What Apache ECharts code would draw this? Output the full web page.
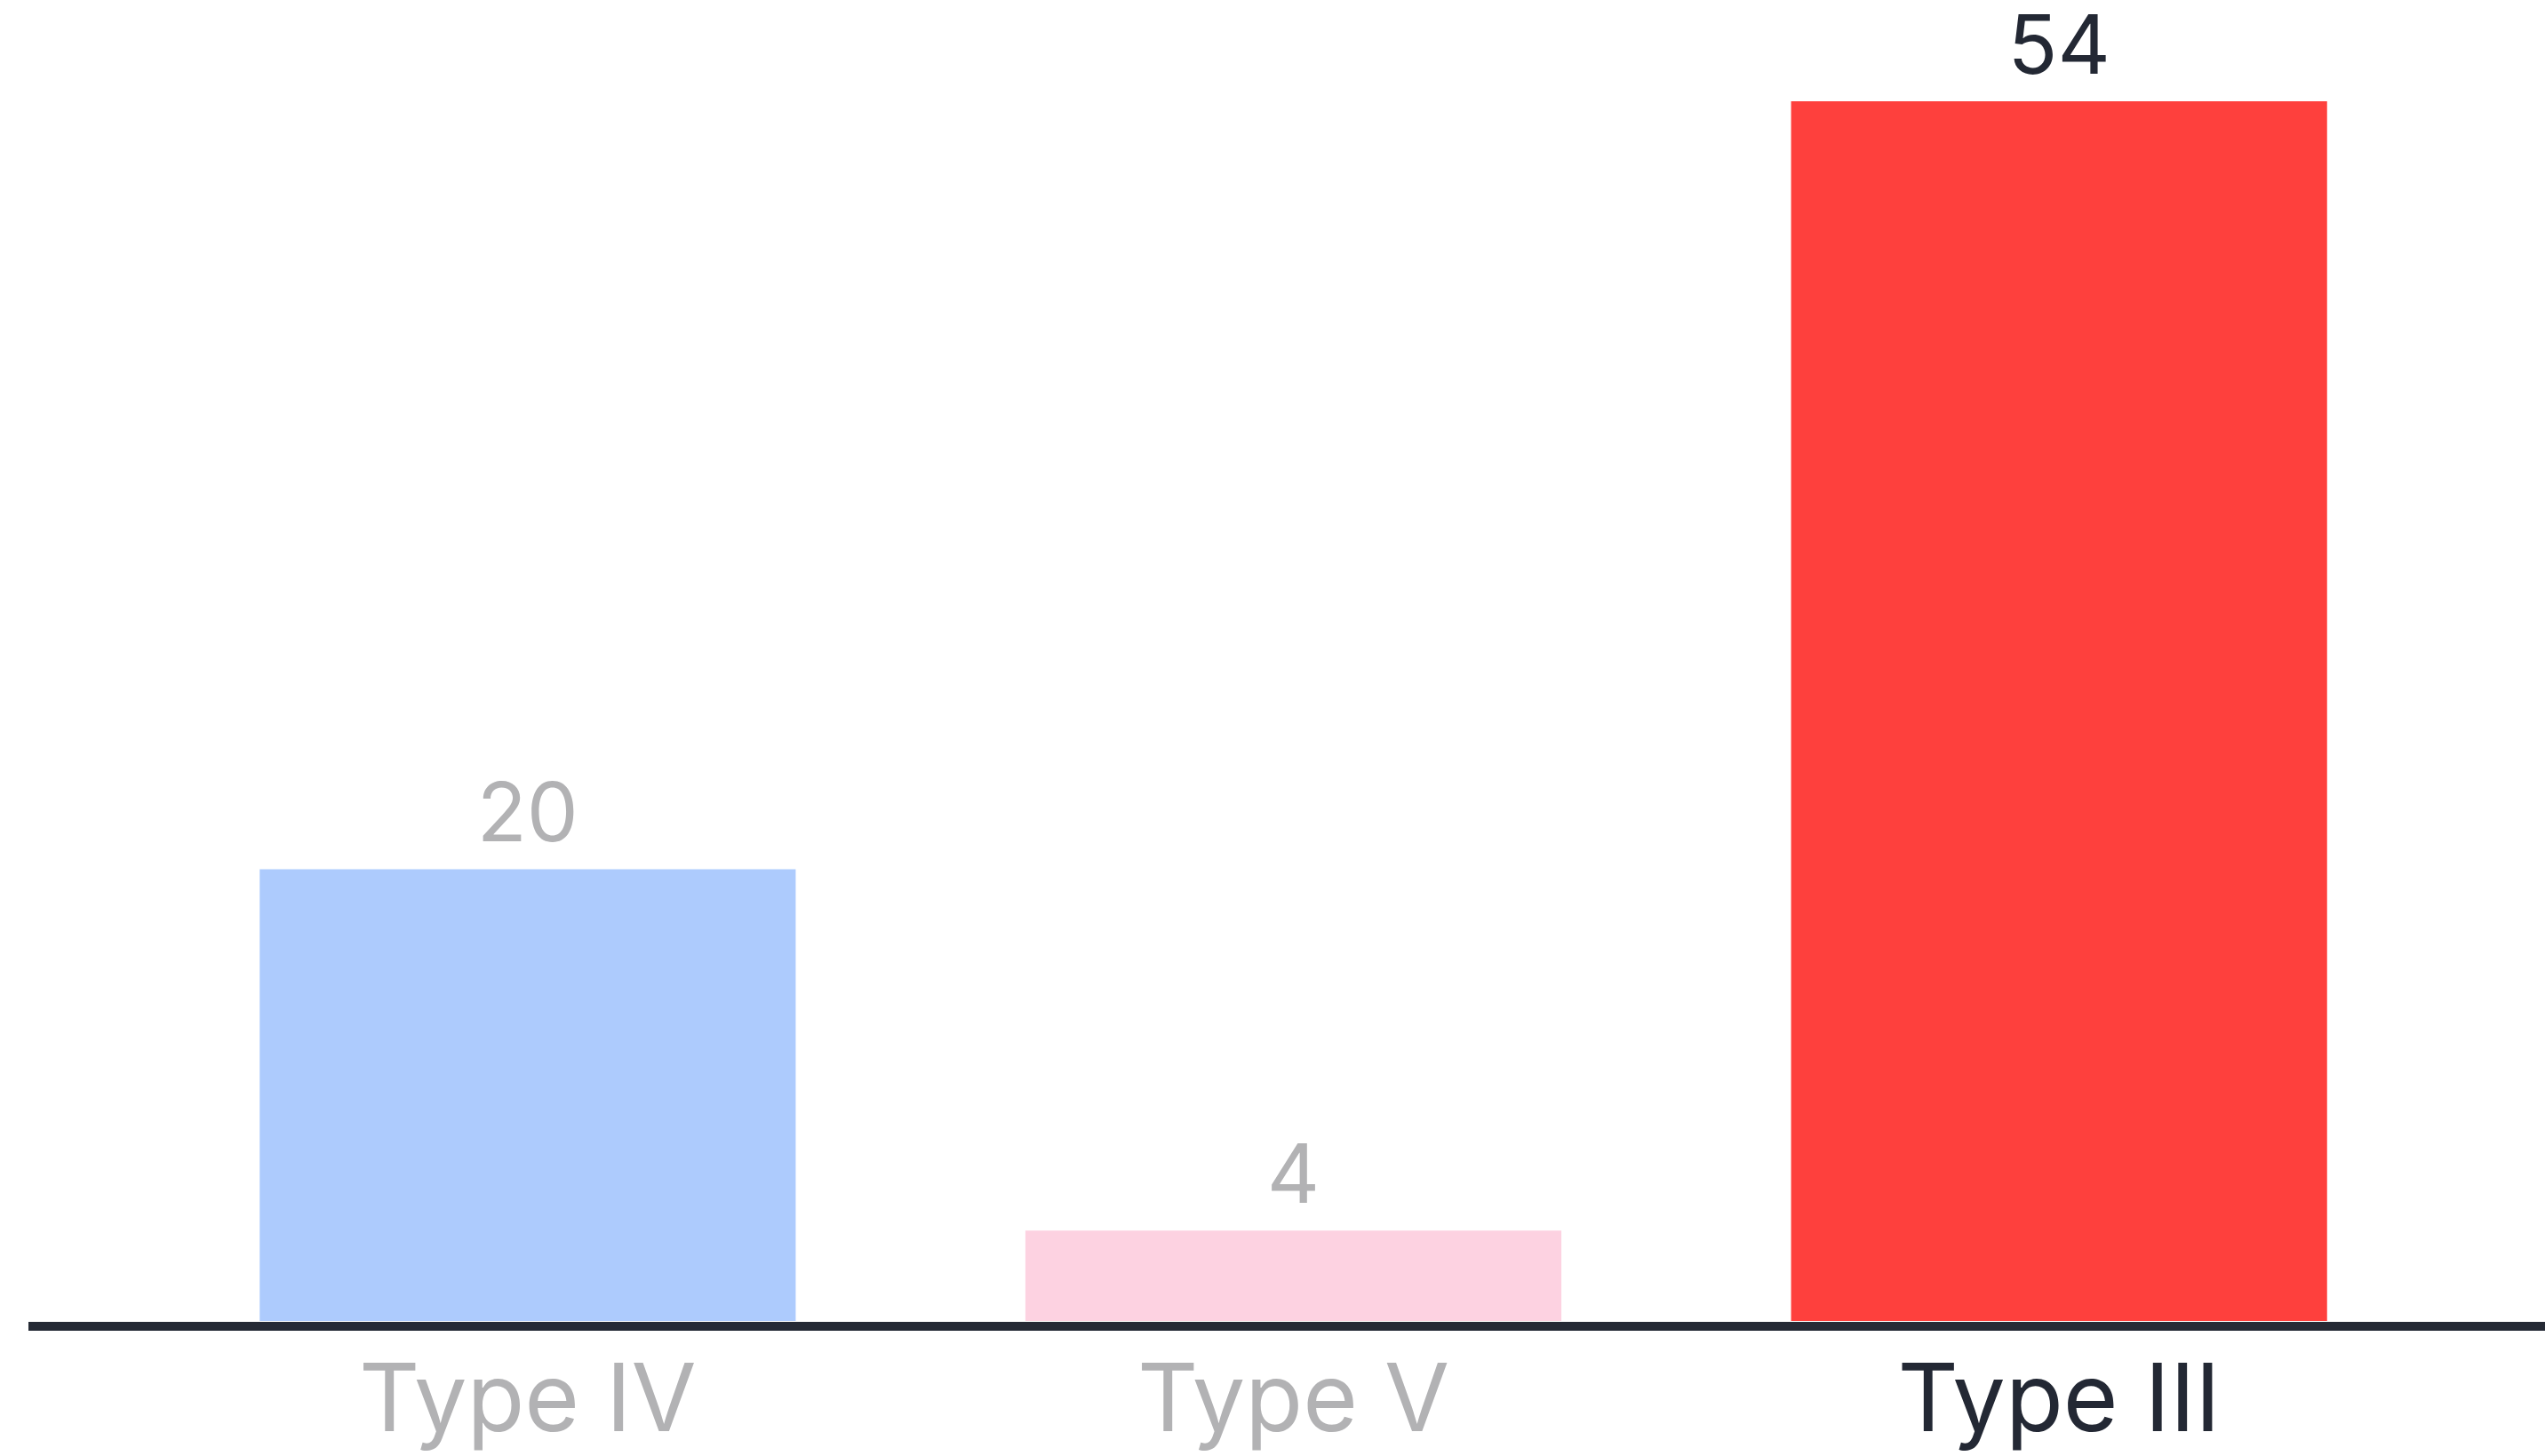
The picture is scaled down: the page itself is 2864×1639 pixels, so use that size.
<!DOCTYPE html>
<html>
<head>
<meta charset="utf-8">
<script src="https://cdn.jsdelivr.net/npm/echarts@6/dist/echarts.min.js"></script>
<style>
  html, body { margin: 0; padding: 0; background: #fff; }
  #chart { width: 2864px; height: 1639px; }
</style>
</head>
<body>
<div id="chart"></div>
<script>
// chart data
const categories = ['Type IV', 'Type V', 'Type III']
const values = [20, 4, 54]
const barColors = ['#adcbfd', '#fdd2e1', '#fe403d']
const labelColors = ['#b2b2b4', '#b2b2b4', '#232834']

const chart = echarts.init(document.getElementById('chart'))

chart.setOption({
  backgroundColor: '#ffffff',
  animation: false,
  grid: [
    { left: 163, right: 116, top: 114, bottom: 152 },
    // full-width baseline under the bars
    { left: 32, right: 0, bottom: 146, height: 1 }
  ],
  xAxis: [
    {
      type: 'category',
      data: categories,
      axisLine: { show: false },
      axisTick: { show: false },
      axisLabel: {
        margin: 39,
        fontFamily: 'Inter',
        fontSize: 106,
        color: (value, index) => labelColors[index]
      }
    },
    {
      type: 'category',
      gridIndex: 1,
      data: [''],
      axisLine: { show: true, lineStyle: { color: '#252a35', width: 10, cap: 'butt' } },
      axisTick: { show: false },
      axisLabel: { show: false }
    }
  ],
  yAxis: [
    {
      type: 'value',
      min: 0,
      max: 54,
      show: false
    },
    { type: 'value', gridIndex: 1, show: false }
  ],
  series: [
    {
      type: 'bar',
      barWidth: '70%',
      data: values.map((v, i) => ({
        value: v,
        itemStyle: { color: barColors[i] },
        label: { color: labelColors[i] }
      })),
      label: {
        show: true,
        position: 'top',
        distance: 13,
        fontFamily: 'Inter',
        fontSize: 92
      }
    }
  ]
})
</script>
</body>
</html>
